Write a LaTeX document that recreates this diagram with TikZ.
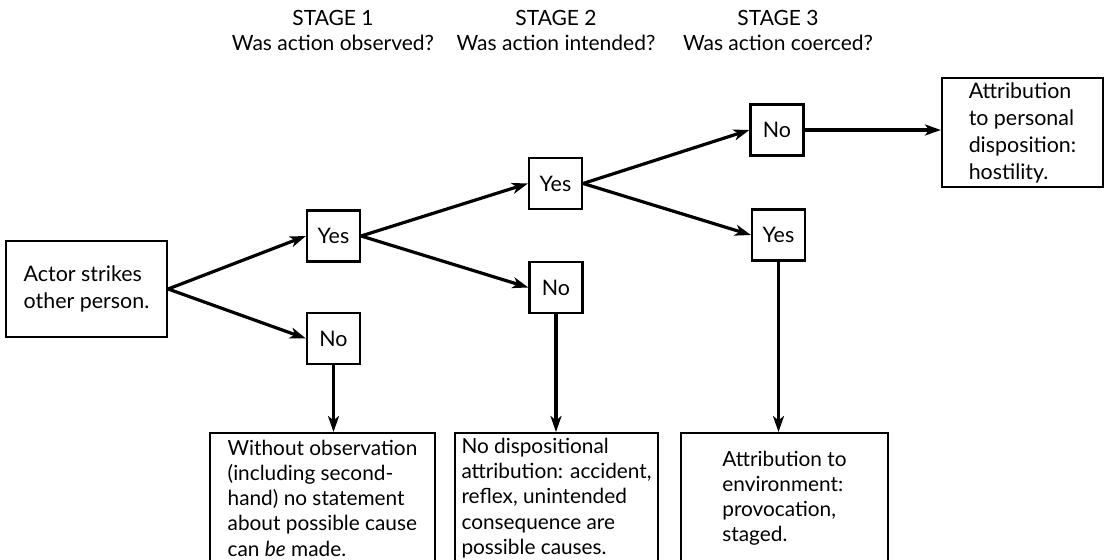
\documentclass[tikz,border=0pt]{standalone}
\usepackage{fontspec}
\setmainfont{Lato}
\usetikzlibrary{arrows.meta,positioning}

\begin{document}
\begin{tikzpicture}[x=0.5pt, y=-0.5pt,
		every node/.style = {font=\fontsize{10.7}{13.5}\selectfont},
		answer/.style = {draw, line width=1.1pt, minimum width=26.5pt, minimum height=25.5pt, inner sep=0pt},
		outcome/.style = {draw, line width=1.1pt, align=left, inner sep=2pt},
		lowbox/.style = {outcome, anchor=north, minimum height=65pt, font=\fontsize{10.4}{12.6}\selectfont},
		stage/.style = {align=center, font=\fontsize{10.5}{12.5}\selectfont},
		link/.style = {line width=1.6pt, -{Stealth[length=8pt,width=5.5pt,inset=2.2pt]}}
		]
		\useasboundingbox (0,0) rectangle (1108,560);
		% stage headings
		\node[stage] (stageA) at (333,30) {STAGE 1\\Was action observed?};
		\node[stage] (stageB) at (556,30) {STAGE 2\\Was action intended?};
		\node[stage] (stageC) at (778,30) {STAGE 3\\Was action coerced?};
		% start
		\node[outcome, minimum width=80.5pt, minimum height=48pt] (actor) at (86.5,289) {Actor strikes\\other person.};
		% answers
		\node[answer] (yesA) at (333.5,236) {Yes};
		\node[answer] (noA) at (333.5,338.5) {No};
		\node[answer] (yesB) at (555.5,183.5) {Yes};
		\node[answer] (noB) at (556,287.5) {No};
		\node[answer] (noC) at (777,130) {No};
		\node[answer] (yesC) at (778.5,235) {Yes};
		% outcomes
		\node[outcome, minimum width=80.5pt, minimum height=52.5pt] (hostile) at (1022.5,132.5)
			{Attribution\\to personal\\disposition:\\hostility.};
		\node[lowbox, minimum width=112.5pt] (outA) at (322.5,432)
			{Without observation\\(including second-\\hand) no statement\\about possible cause\\can \textit{be} made.};
		\node[lowbox, minimum width=101.5pt] (outB) at (556.5,432)
			{No dispositional\\attribution: accident,\\reflex, unintended\\consequence are\\possible causes.};
		\node[lowbox, minimum width=103.5pt] (outC) at (784.5,432)
			{Attribution to\\environment:\\provocation,\\staged.};
		% connectors
		\draw[link] (actor.east) -- (yesA.west);
		\draw[link] (actor.east) -- (noA.west);
		\draw[link] (yesA.east) -- (yesB.west);
		\draw[link] (yesA.east) -- (noB.west);
		\draw[link] (yesB.east) -- (noC.west);
		\draw[link] (yesB.east) -- (yesC.west);
		\draw[link] (noC.east) -- (noC.east -| hostile.west);
		\draw[link] (noA.south) -- (noA.south |- outA.north);
		\draw[link] (noB.south) -- (noB.south |- outB.north);
		\draw[link] (yesC.south) -- (yesC.south |- outC.north);
\end{tikzpicture}
\end{document}
